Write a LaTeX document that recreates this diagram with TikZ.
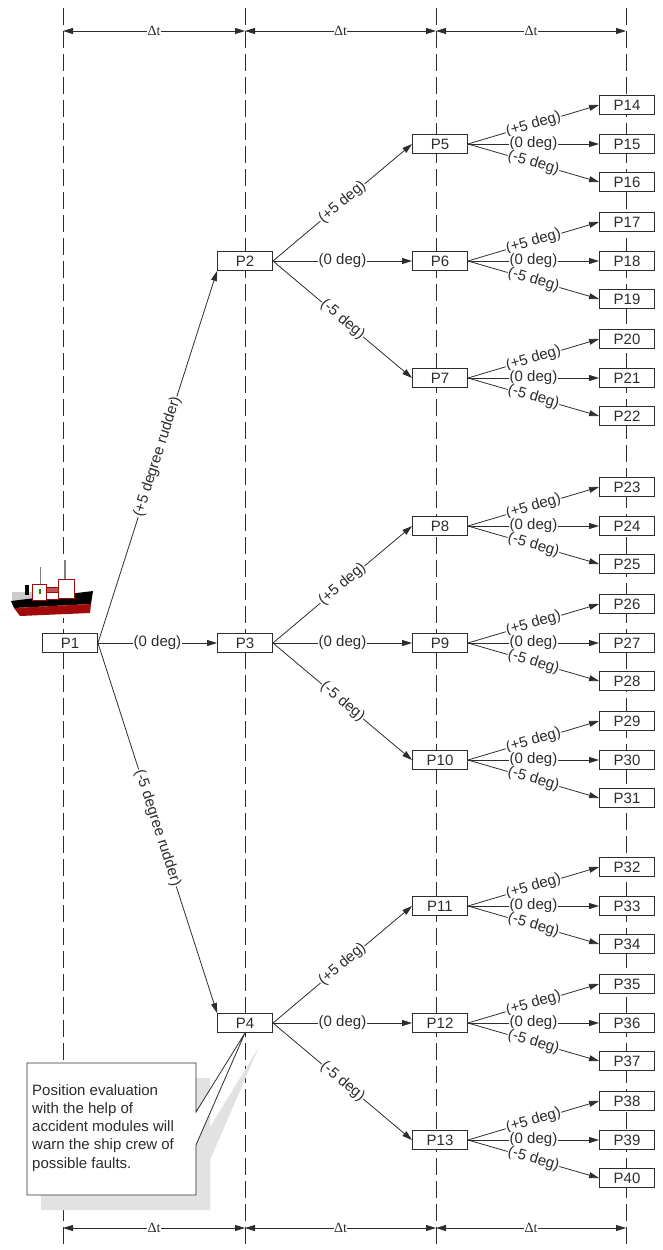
\documentclass[tikz,border=0pt]{standalone}
\usepackage{fontspec}
\setmainfont{Liberation Sans}
\newfontfamily\dtfont{Liberation Serif}
\usetikzlibrary{arrows.meta}

\definecolor{inkgray}{RGB}{45,45,45}
\definecolor{shadowgray}{RGB}{226,226,226}
\definecolor{hullred}{RGB}{160,10,10}

\tikzset{
  ptbox/.style={draw=inkgray, fill=white, line width=0.9pt, minimum width=55pt, minimum height=19pt, inner sep=0pt, text=inkgray},
  course/.style={draw=inkgray, line width=0.8pt, -{Triangle[length=10pt,width=6pt]}},
  lab/.style={fill=white, inner sep=0.6pt, text=inkgray, sloped},
  timeline/.style={draw=inkgray, line width=0.8pt, dash pattern=on 17pt off 6pt},
  dtarrow/.style={draw=inkgray, line width=0.8pt, {Triangle[length=10pt,width=6pt]}-{Triangle[length=10pt,width=6pt]}},
  dtlab/.style={fill=white, inner sep=0.5pt, text=inkgray, font=\dtfont\fontsize{14}{16}\selectfont},
}

\begin{document}
\begin{tikzpicture}[x=1pt, y=-1pt, font=\fontsize{15}{18.3}\selectfont]
\useasboundingbox (0,0) rectangle (662,1250);

% time lines
\draw[timeline] (63,8) -- (63,1250);
\draw[timeline] (245,8) -- (245,1250);
\draw[timeline] (436,8) -- (436,1250);
\draw[timeline] (626,8) -- (626,1250);

\coordinate (a0) at (63,31);
\coordinate (a1) at (245,31);
\coordinate (a2) at (436,31);
\coordinate (a3) at (626,31);
\coordinate (b0) at (63,1228);
\coordinate (b1) at (245,1228);
\coordinate (b2) at (436,1228);
\coordinate (b3) at (626,1228);

\draw[dtarrow] (a0) -- node[dtlab]{Δt} (a1);
\draw[dtarrow] (a1) -- node[dtlab]{Δt} (a2);
\draw[dtarrow] (a2) -- node[dtlab]{Δt} (a3);
\draw[dtarrow] (b0) -- node[dtlab]{Δt} (b1);
\draw[dtarrow] (b1) -- node[dtlab]{Δt} (b2);
\draw[dtarrow] (b2) -- node[dtlab]{Δt} (b3);

% ship
\fill[white] (8,560) rectangle (96,618);
\draw[gray, line width=1pt] (40,567) -- (40,585);
\draw[gray, line width=1.3pt] (65,560) -- (65,580);
\fill[gray!40] (12,592) rectangle (32,601);
\fill[black] (11,601) -- (93,591) -- (91,604) -- (14,608) -- cycle;
\fill[hullred] (14,608) -- (91,604) -- (90,613) -- (20,616) -- cycle;
\filldraw[fill=white, draw=hullred, line width=0.7pt] (32,584) rectangle (46,600);
\filldraw[fill=hullred!70, draw=hullred, line width=0.7pt] (46,587) rectangle (58,592);
\filldraw[fill=white, draw=hullred, line width=0.7pt] (46,592) rectangle (58,599);
\filldraw[fill=white, draw=hullred, line width=0.7pt] (58,579) rectangle (74,598);
\fill[black] (25,585) rectangle (29,595);
\fill[green!60!black] (39,589) rectangle (41,594);

% positions
\node[ptbox] (P1) at (70,643) {P1};
\node[ptbox] (P2) at (245,261) {P2};
\node[ptbox] (P3) at (245,643) {P3};
\node[ptbox] (P4) at (245,1023) {P4};

\node[ptbox] (P5) at (440,144) {P5};
\node[ptbox] (P6) at (440,261) {P6};
\node[ptbox] (P7) at (440,378) {P7};
\node[ptbox] (P8) at (440,526) {P8};
\node[ptbox] (P9) at (440,643) {P9};
\node[ptbox] (P10) at (440,760) {P10};
\node[ptbox] (P11) at (440,906) {P11};
\node[ptbox] (P12) at (440,1023) {P12};
\node[ptbox] (P13) at (440,1140) {P13};

\draw[course] (P1.east) -- node[lab]{(+5 degree rudder)} (P2.south west);
\draw[course] (P1.east) -- node[lab]{(0 deg)} (P3.west);
\draw[course] (P1.east) -- node[lab]{(-5 degree rudder)} (P4.north west);

\draw[course] (P2.east) -- node[lab]{(+5 deg)} (P5.west);
\draw[course] (P2.east) -- node[lab]{(0 deg)} (P6.west);
\draw[course] (P2.east) -- node[lab]{(-5 deg)} (P7.west);
\draw[course] (P3.east) -- node[lab]{(+5 deg)} (P8.west);
\draw[course] (P3.east) -- node[lab]{(0 deg)} (P9.west);
\draw[course] (P3.east) -- node[lab]{(-5 deg)} (P10.west);
\draw[course] (P4.east) -- node[lab]{(+5 deg)} (P11.west);
\draw[course] (P4.east) -- node[lab]{(0 deg)} (P12.west);
\draw[course] (P4.east) -- node[lab]{(-5 deg)} (P13.west);

% last step
\foreach \p/\y/\a/\b/\c in {5/144/14/15/16, 6/261/17/18/19, 7/378/20/21/22,
    8/526/23/24/25, 9/643/26/27/28, 10/760/29/30/31,
    11/906/32/33/34, 12/1023/35/36/37, 13/1140/38/39/40} {
  \node[ptbox] (P\a) at (627,\y-39) {P\a};
  \node[ptbox] (P\b) at (627,\y) {P\b};
  \node[ptbox] (P\c) at (627,\y+38) {P\c};
  \draw[course] (P\p.east) -- node[lab]{(+5 deg)} (P\a.west);
  \draw[course] (P\p.east) -- node[lab]{(0 deg)} (P\b.west);
  \draw[course] (P\p.east) -- node[lab]{(-5 deg)} (P\c.west);
}

% callout
\fill[shadowgray] (41,1078) -- (210,1078) -- (210,1127) -- (259,1047) -- (210,1160) -- (210,1210) -- (41,1210) -- cycle;
\filldraw[fill=white, draw=inkgray, line width=0.8pt] (27,1063) -- (196,1063) -- (196,1112) -- (P4.south) -- (196,1145) -- (196,1195) -- (27,1195) -- cycle;
\node[anchor=north west, align=left, inner sep=0pt, text=inkgray] (note) at (32,1084)
  {Position evaluation\\with the help of\\accident modules will\\warn the ship crew of\\possible faults.};
\end{tikzpicture}
\end{document}
